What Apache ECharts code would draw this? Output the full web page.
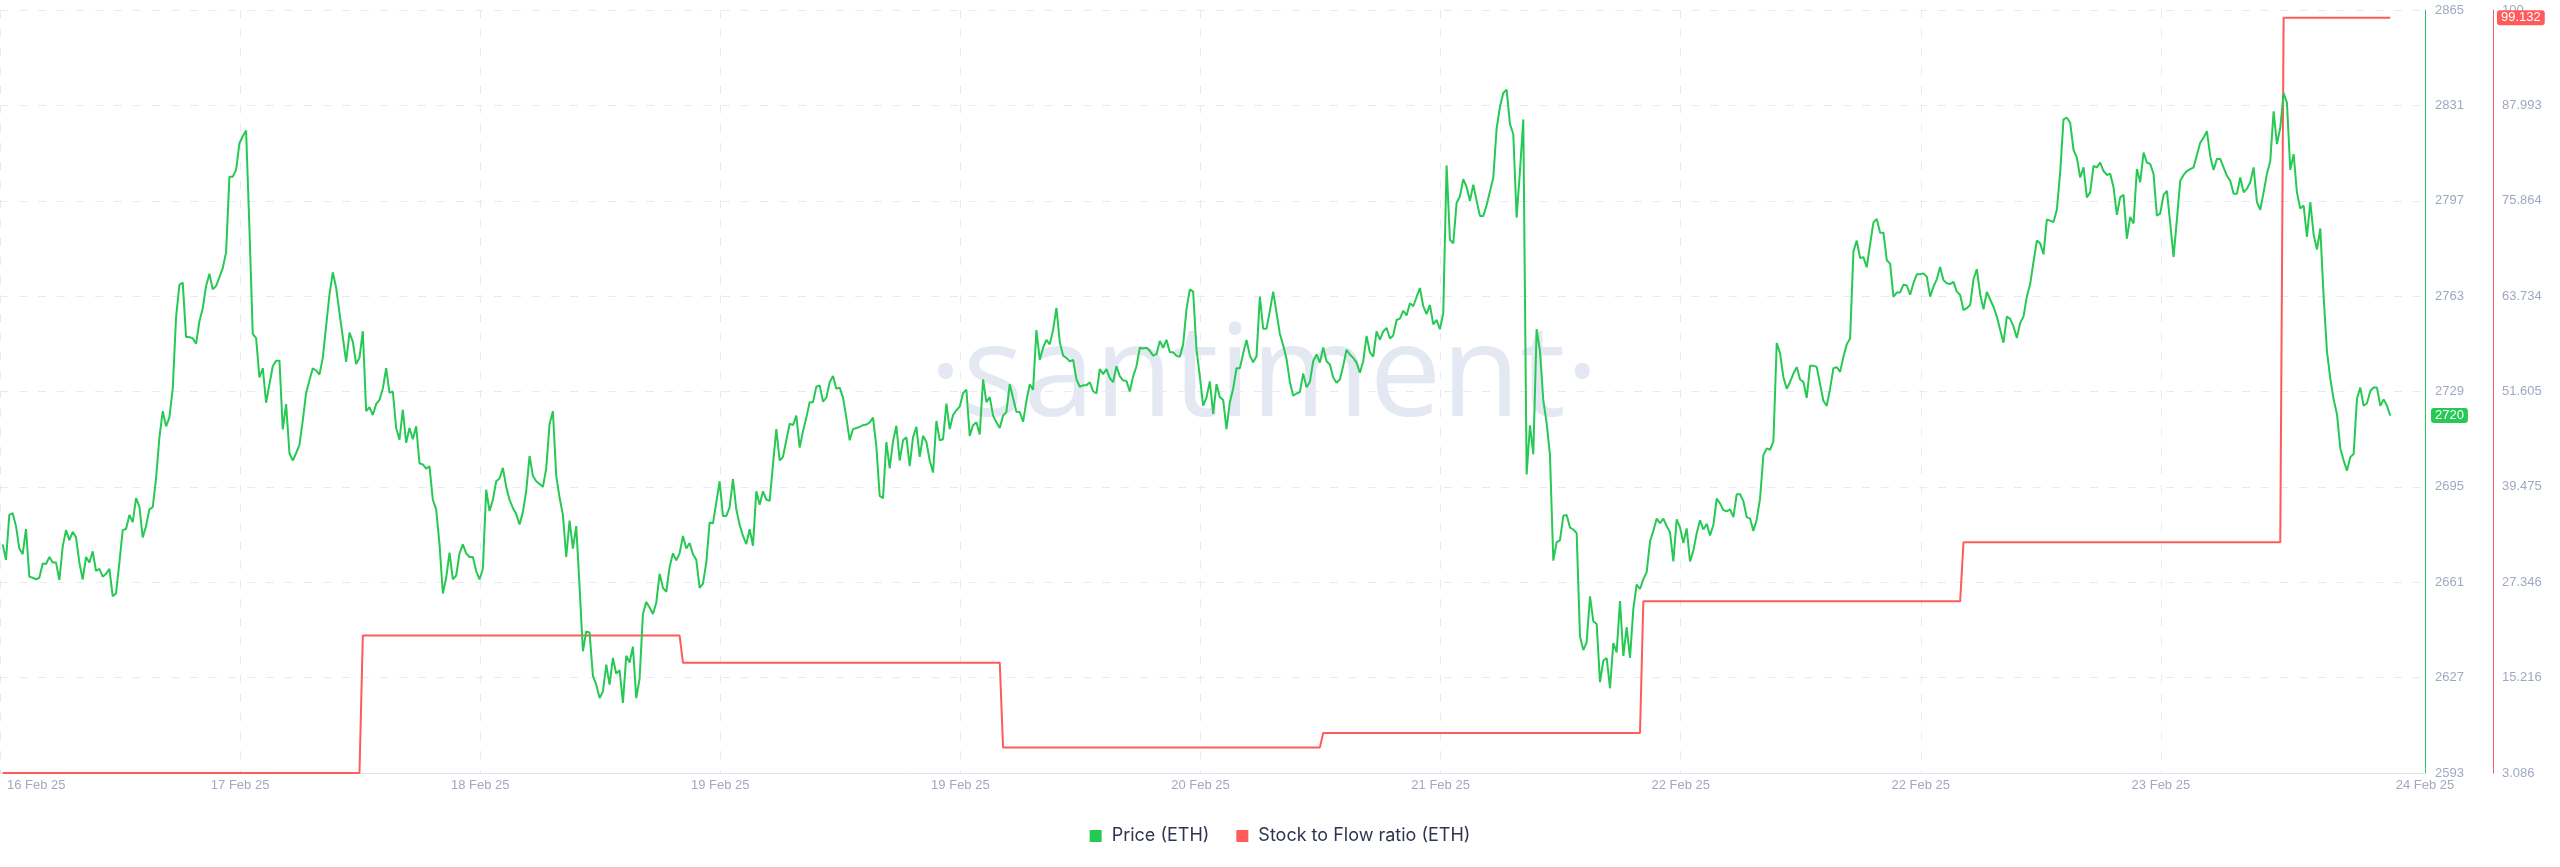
<!DOCTYPE html>
<html>
<head>
<meta charset="utf-8">
<title>Price vs Stock to Flow ratio (ETH)</title>
<script src="https://cdn.jsdelivr.net/npm/echarts@6/dist/echarts.min.js"></script>
<style>
  html, body { margin: 0; padding: 0; background: #ffffff; }
  #chart { width: 2560px; height: 867px; }
</style>
</head>
<body>
<div id="chart"></div>
<script>
// ---------------- DATA ----------------
// Price (ETH), 15-minute candles from 2025-02-16 21:00 UTC
const priceStartUtc = '2025-02-16T21:00:00Z';
const priceStepMinutes = 15;

const priceFeb16to18 = [
2674.5,2669,2685,2685.6,2681,2673,2671,2680,2663,2662.6,
2662,2662.6,2667.7,2667.5,2670,2668,2668,2661.8,2673.7,2679.6,
2676,2679,2677,2668,2662,2670,2668,2672,2665,2665.8,
2663,2664,2665.8,2656,2657,2668,2679.6,2680,2685,2682.4,
2691,2688,2677,2681,2687,2687.8,2698,2712.6,2722,2716.6,
2719.8,2730,2755.5,2767,2767.8,2748.4,2748.4,2748,2746,2754,
2758.7,2766.6,2771,2765.4,2766.6,2769.8,2773,2778.6,2805.6,2805.6,
2808,2817.5,2820,2822,2787,2749.5,2748,2734,2737.3,2725,
2731.6,2738,2740,2740,2715.5,2724.5,2707,2704.4,2707,2710,
2718.7,2728.5,2733,2737.3,2736.5,2735,2741,2752.4,2763.5,2771.5,
2766,2757,2748.4,2739.6,2750,2746.8,2738.8,2741,2750.5,2722,
2723.4,2720.6,2724.5,2726,2730,2737.3,2728.5,2729,2716,2711.8,
2722.5,2710.7,2716,2712,2716.6,2703.4,2703,2701.5,2702.3,2690.4,
2687,2674.5,2657,2662.6,2671.6,2662,2663.4,2671.3,2674.5,2671.3,
2670,2670,2665,2662,2665.8,2694,2686.4,2690.4,2697,2698,
2701.8,2695,2690.4,2687.5,2685.3,2681.6,2686,2693.6,2706,2699,
2697,2696,2695,2701.5,2717.4,2722,2699,2691.2,2685,2670,
2683,2673,2681,2659.4,2636.4,2643.5,2643,2627.6,2624.5,2619.7,
2622,2631.6,2624.5,2634,2628.4,2629.7,2618,2634.8,2632.4,2638,
2619.7
];
const priceFeb18to20 = [
2626.6,2649.7,2654,2652,2649.7,2653.7,2664,2659,2657.6,2666.4,
2671.3,2668.8,2671.3,2677.5,2673,2675,2671,2669,2659,2660.5,
2668,2682.3,2682,2689.4,2697,2684.6,2684.6,2687.8,2697.8,2687,
2681.5,2677.5,2674.6,2679.9,2674,2693.4,2688.6,2693.4,2690.5,2690,
2702.9,2715.6,2704.4,2705.7,2711.6,2717.5,2717,2720.4,2709,2714.8,
2719.7,2725.2,2725.2,2730.7,2731.2,2725.4,2726.8,2732.3,2734.5,2730,
2730.4,2726.8,2719.7,2711.6,2715.6,2716,2716.4,2717,2717.2,2718,
2719.7,2709.4,2691.8,2691,2711,2701.6,2711.2,2716.8,2704.4,2711.6,
2712.7,2702.4,2712.7,2716.4,2705.7,2713.2,2711,2704.4,2700.1,2718.5,
2711.6,2712,2724.7,2715.6,2720.6,2722.3,2723.6,2728.5,2729.6,2713.2,
2717,2718,2713.7,2733.3,2725.2,2727,2720.4,2718,2716,2720.4,
2721.7,2731.6,2726.7,2721.8,2721.7,2718.2,2725.6,2731.6,2729.6,2750.9,
2740.3,2744.6,2747.4,2745.8,2750.9,2758.8,2746.6,2741.8,2741,2739.8,
2740.3,2733.3,2730.7,2731.2,2731.2,2732.3,2729.1,2728.3,2737,2735.2,
2737,2733.8,2732.3,2738,2734.5,2733,2732.7,2729,2734.4,2738,
2744.6,2744.3,2744.6,2743.5,2741.8,2742.3,2747,2744.6,2747.4,2743,
2743,2741.7,2741.4,2745.8,2758.3,2765.4,2764.6,2744,2734.4,2724,
2726.8,2732.6,2721,2731.6,2727,2726,2715.6,2725.2,2730,2737.3,
2737.3,2742.6,2747.4,2741.8,2739.4,2741.6,2762.8,2751.4,2751.4,2757.7,
2764.6,2757
];
const priceFeb20to22 = [
2749.6,2745.5,2740.6,2732.4,2727.5,2728.3,2728.8,2735.4,2730.5,2732.4,
2739.8,2742.2,2739.3,2744.7,2739.8,2738.6,2734,2732.1,2733.3,2738.2,
2743.9,2742.2,2741,2739.3,2735.7,2739.8,2748.8,2743,2741.4,2750.4,
2747.5,2750.4,2751.7,2747.9,2749,2754.5,2755,2757.8,2756.1,2760.5,
2759.4,2762.7,2765.9,2759.4,2756.6,2759.9,2752.9,2754.5,2751.2,2757,
2809.6,2783.1,2781.8,2796.2,2798.6,2804.7,2801.9,2797,2802.7,2797,
2791.6,2791.6,2795.4,2800.3,2805.2,2822.7,2830.5,2835.4,2836.6,2824.3,
2820.7,2791,2807.6,2826,2699.4,2716.9,2706.6,2751.2,2743.5,2725.9,
2717.7,2706.3,2668.7,2675.2,2676,2684.7,2685,2680.5,2679.8,2678.5,
2641.7,2636.8,2639.6,2656,2647.1,2646.1,2625.4,2633,2634,2623.2,
2639.3,2636,2654.3,2634.7,2645,2634,2651.5,2660.2,2658.6,2662.1,
2664.6,2675.5,2679.3,2683.7,2682.1,2683.7,2681,2678.8,2668.4,2683.4,
2680.5,2675,2680.2,2668.4,2672.3,2678.5,2683.1,2679.8,2681.8,2677.7,
2681.4,2690.8,2689.1,2686.7,2686.3,2687,2684.2,2692.4,2692.4,2689.9,
2684.2,2683.7,2679.3,2683.4,2690.8,2706.3,2708.7,2708.2,2711.2,2746.3,
2742.6,2734.1,2730,2732.4,2735.4,2737.7,2733.3,2732.4,2726.7,2738.2,
2738.2,2737.7,2731.6,2725.6,2723.9,2730,2737.3,2737.7,2736,2741.4,
2745.8,2747.9,2779,2782.8,2776.6,2776.9,2773.3,2781.5,2789.3,2790.5,
2785.6,2785.6,2775.8,2774.6,2762.7,2764.3,2764.3,2767.1,2766.8,2763.5,
2767.6,2770.8
];
const priceFeb22to24 = [
2770.8,2771.1,2769.9,2762.8,2766.4,2769,2773.4,2768.7,2767.6,2767.3,
2768.1,2764.6,2763.4,2758,2758.7,2759.8,2769,2772.6,2763.7,2758.3,
2764.5,2761.8,2759.2,2755.7,2751,2746.4,2755.7,2754.9,2752.2,2748.1,
2753.4,2755.7,2762.8,2767.3,2775.2,2782.8,2781.8,2777.9,2790.3,2789.9,
2789.4,2793.8,2807.1,2826,2826.6,2824.8,2815.1,2812.4,2805.3,2808.9,
2798.2,2800,2809.4,2808.9,2810.6,2807.6,2806.2,2806.6,2801.8,2792,
2798.2,2799.1,2783.5,2791.2,2788.9,2808.3,2803.6,2814.2,2810.6,2810.1,
2806.6,2791.7,2792.4,2799.1,2800.5,2788.9,2777,2790.3,2804.1,2806.2,
2807.6,2808.3,2808.9,2813.3,2817.7,2819.5,2821.8,2812.9,2808,2811.9,
2811.9,2808.9,2805.9,2804.1,2799.5,2799.5,2805.3,2800,2801.3,2803.6,
2808.9,2796.5,2793.8,2800,2806.6,2811.2,2828.9,2817.2,2823,2835.4,
2831.9,2808,2813.6,2800,2794.2,2795.3,2784.1,2796.5,2785,2779.6,
2787.1,2762.8,2743.3,2733.6,2726.2,2720.9,2708.8,2704.4,2700.8,2705.6,
2706.7,2726.5,2730.4,2723.9,2724.8,2729.2,2730.4,2730.4,2723.9,2726.2,
2723.9,2720.4
];

// Stock to Flow ratio (ETH), daily values (UTC day)
const s2fDays   = ['2025-02-16','2025-02-17','2025-02-18','2025-02-19','2025-02-20','2025-02-21','2025-02-22','2025-02-23','2025-02-24'];
const s2fValues = [3.0865, 3.0865, 20.57, 17.11, 6.34, 8.17, 24.92, 32.43, 99.132];

// Axis ticks
const xAxisStart = '2025-02-16T20:48:00Z';
const xAxisEnd   = '2025-02-24T10:36:00Z';
const xTickTimes = ['2025-02-16T20:48:00Z','2025-02-17T14:48:00Z','2025-02-18T08:48:00Z','2025-02-19T02:48:00Z',
  '2025-02-19T20:48:00Z','2025-02-20T14:48:00Z','2025-02-21T08:48:00Z','2025-02-22T02:48:00Z',
  '2025-02-22T20:48:00Z','2025-02-23T14:48:00Z','2025-02-24T10:36:00Z'];
const monthNames = ['Jan','Feb','Mar','Apr','May','Jun','Jul','Aug','Sep','Oct','Nov','Dec'];
const priceTicks = [2593, 2627, 2661, 2695, 2729, 2763, 2797, 2831, 2865];
const s2fTicks = [3.086, 15.216, 27.346, 39.475, 51.605, 63.734, 75.864, 87.993, 100.123];
const s2fTickLabels = ['3.086','15.216','27.346','39.475','51.605','63.734','75.864','87.993','100'];

// ---------------- BUILD ----------------
const GREEN = '#26c953';
const RED = '#ff5b5b';
const LABEL = '#a0a9c1';
const GRIDC = '#e7eaf3';
const FONT = '"Liberation Sans", Arial, sans-serif';

const t0 = Date.parse(priceStartUtc);
const stepMs = priceStepMinutes * 60 * 1000;
const priceValues = [].concat(priceFeb16to18, priceFeb18to20, priceFeb20to22, priceFeb22to24);
const priceData = priceValues.map((v, i) => [t0 + i * stepMs, v]);
const s2fData = priceData.map(([t]) => {
  const day = new Date(t).toISOString().slice(0, 10);
  return [t, s2fValues[s2fDays.indexOf(day)]];
});
const lastPrice = priceValues[priceValues.length - 1];
const lastS2f = s2fData[s2fData.length - 1][1];
const xTickValues = xTickTimes.map(s => Date.parse(s));

function fmtDate(v) {
  const d = new Date(v);
  const s = d.getUTCDate() + ' ' + monthNames[d.getUTCMonth()] + ' ' + String(d.getUTCFullYear()).slice(2);
  return v === xTickValues[0] ? '{first|' + s + '}' : s;
}
function fmtS2f(v) {
  let best = 0;
  for (let i = 1; i < s2fTicks.length; i++) if (Math.abs(s2fTicks[i] - v) < Math.abs(s2fTicks[best] - v)) best = i;
  return s2fTickLabels[best];
}

const chart = echarts.init(document.getElementById('chart'), null, { renderer: 'canvas' });
chart.setOption({
  animation: false,
  backgroundColor: '#ffffff',
  textStyle: { fontFamily: FONT },
  grid: { left: 0, right: 135, top: 10, bottom: 94, containLabel: false, outerBoundsMode: 'none' },
  graphic: [{
    type: 'text', silent: true, z: 0, zlevel: 0,
    x: 1264, y: 380,
    style: { text: '\u00b7santiment\u00b7', fill: '#e4e8f2', font: '400 128px "Open Sans"', align: 'center', verticalAlign: 'middle' }
  }],
  legend: {
    left: 'center', top: 822,
    icon: 'rect', itemWidth: 12, itemHeight: 12, itemGap: 27,
    textStyle: { color: '#2f3550', fontSize: 18, fontFamily: 'Inter', padding: [0, 0, 0, 5] },
    data: ['Price (ETH)', 'Stock to Flow ratio (ETH)']
  },
  xAxis: {
    type: 'value', min: Date.parse(xAxisStart), max: Date.parse(xAxisEnd),
    axisLine: { show: true, lineStyle: { color: '#dfe3ee', width: 1 } },
    axisTick: { show: false, customValues: xTickValues },
    axisLabel: {
      customValues: xTickValues, formatter: fmtDate, color: LABEL, fontSize: 13, margin: 6,
      alignMinLabel: 'left', fontFamily: FONT,
      rich: { first: { color: LABEL, fontSize: 13, fontFamily: FONT, padding: [0, 0, 0, 7] } }
    },
    splitLine: { show: true, lineStyle: { color: GRIDC, width: 1, type: [8, 11] } }
  },
  yAxis: [{
    type: 'value', position: 'right', min: priceTicks[0], max: priceTicks[priceTicks.length - 1],
    axisLine: { show: true, lineStyle: { color: GREEN, width: 1 } },
    axisTick: { show: false, customValues: priceTicks },
    axisLabel: { customValues: priceTicks, formatter: v => String(Math.round(v)), color: LABEL, fontSize: 13, margin: 10, fontFamily: FONT },
    splitLine: { show: true, lineStyle: { color: GRIDC, width: 1, type: [8, 11] } },
    axisPointer: {
      show: true, type: 'line', value: lastPrice, status: 'show', snap: false, triggerTooltip: false,
      lineStyle: { opacity: 0 },
      label: { show: true, backgroundColor: GREEN, color: '#ffffff', fontSize: 13, padding: [1, 4], margin: 6, fontFamily: FONT,
        formatter: p => Math.round(p.value).toString() }
    }
  }, {
    type: 'value', position: 'right', offset: 68, min: s2fTicks[0], max: s2fTicks[s2fTicks.length - 1],
    axisLine: { show: true, lineStyle: { color: RED, width: 1 } },
    axisTick: { show: false, customValues: s2fTicks },
    axisLabel: { customValues: s2fTicks, formatter: fmtS2f, color: LABEL, fontSize: 13, margin: 9, fontFamily: FONT },
    splitLine: { show: false },
    axisPointer: {
      show: true, type: 'line', value: lastS2f, status: 'show', snap: false, triggerTooltip: false,
      lineStyle: { opacity: 0 },
      label: { show: true, backgroundColor: RED, color: '#ffffff', fontSize: 13, padding: [1, 4], margin: 4, fontFamily: FONT,
        formatter: p => Number(p.value).toFixed(3) }
    }
  }],
  series: [{
    name: 'Price (ETH)', type: 'line', yAxisIndex: 0, data: priceData,
    showSymbol: false, symbol: 'none', z: 3,
    lineStyle: { color: GREEN, width: 2 }, itemStyle: { color: GREEN }
  }, {
    name: 'Stock to Flow ratio (ETH)', type: 'line', yAxisIndex: 1, data: s2fData,
    showSymbol: false, symbol: 'none', z: 2,
    lineStyle: { color: RED, width: 2 }, itemStyle: { color: RED }
  }]
});
</script>
</body>
</html>
